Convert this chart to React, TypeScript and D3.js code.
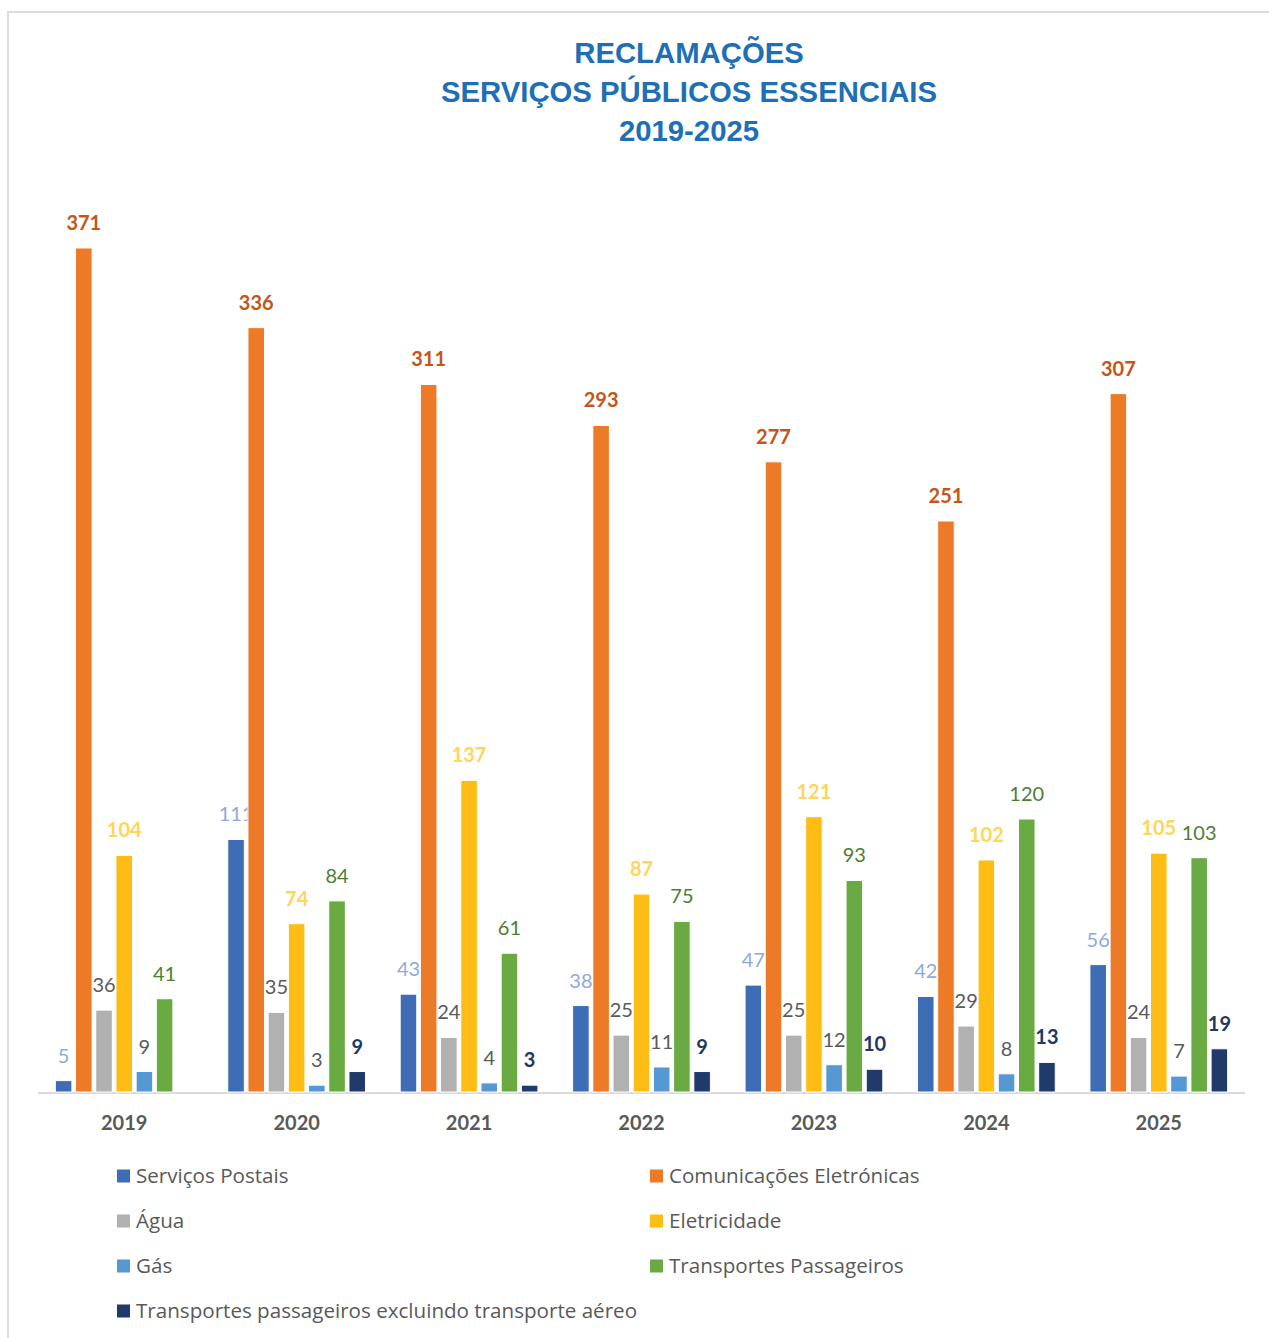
import React from "react";
import * as d3 from "d3";

const years = ["2019", "2020", "2021", "2022", "2023", "2024", "2025"];
const seriesNames = [
  "Serviços Postais",
  "Comunicações Eletrónicas",
  "Água",
  "Eletricidade",
  "Gás",
  "Transportes Passageiros",
  "Transportes passageiros excluindo transporte aéreo",
];
const servicosPostais = [5, 111, 43, 38, 47, 42, 56];
const comunicacoes = [371, 336, 311, 293, 277, 251, 307];
const agua = [36, 35, 24, 25, 25, 29, 24];
const eletricidade = [104, 74, 137, 87, 121, 102, 105];
const gas = [9, 3, 4, 11, 12, 8, 7];
const transportes = [41, 84, 61, 75, 93, 120, 103];
const transportesExclAereo = [null, 9, 3, 9, 10, 13, 19];
const titleLines = ["RECLAMAÇÕES", "SERVIÇOS PÚBLICOS ESSENCIAIS", "2019-2025"];

const seriesValues: (number | null)[][] = [
  servicosPostais,
  comunicacoes,
  agua,
  eletricidade,
  gas,
  transportes,
  transportesExclAereo,
];
const barColors = ["#3f6db5", "#ec7a26", "#b1b1b1", "#fdbd14", "#5598d3", "#69aa43", "#203a6b"];
const labelColors = ["#8eaadb", "#c4561a", "#5a5a5a", "#ffd55a", "#5a5a5a", "#4e7e34", "#1f3864"];
const labelWeights = [400, 700, 400, 700, 400, 400, 700];

const W = 1269;
const H = 1338;
const baseY = 1092;
const FONT = "Lato, 'Open Sans', sans-serif";

export default function App() {
  const x0 = d3.scaleBand<string>().domain(years).range([38, 1245]).paddingInner(0.18).paddingOuter(0.09);
  const x1 = d3
    .scaleBand<string>()
    .domain(seriesNames)
    .range([0, x0.bandwidth()])
    .paddingInner(0.18)
    .paddingOuter(0.09);
  const y = d3.scaleLinear().domain([0, 371]).range([baseY, 248]);

  return (
    <svg
      width={W}
      height={H}
      style={{ position: "absolute", left: 0, top: 0, background: "#fff" }}
      fontFamily={FONT}
    >
      <rect x={8} y={12} width={W + 10} height={H + 10} fill="#fff" stroke="#dcdcdc" strokeWidth={2} />
      {titleLines.map((t, i) => (
        <text
          key={t}
          x={689}
          y={63 + i * 39}
          textAnchor="middle"
          fontFamily="'Liberation Sans', Arial, sans-serif"
          fontWeight={700}
          fontSize={29.3}
          fill="#1d6fb6"
        >
          {t}
        </text>
      ))}
      <line x1={38} x2={1245} y1={baseY + 1} y2={baseY + 1} stroke="#d9d9d9" strokeWidth={2} />
      {years.map((yr, yi) => (
        <g key={yr} transform={`translate(${x0(yr)},0)`}>
          {seriesNames.map((s, si) => {
            const v = seriesValues[si][yi];
            if (v === null || v === undefined) return null;
            const bx = x1(s)!;
            const bw = x1.bandwidth();
            return (
              <g key={s}>
                <rect
                  x={bx}
                  y={y(v)}
                  width={bw}
                  height={baseY - y(v)}
                  fill={barColors[si]}
                  stroke="#fff"
                  strokeWidth={1}
                />
                <text
                  x={bx + bw / 2}
                  y={y(v) - 18}
                  textAnchor="middle"
                  fontSize={20}
                  fontWeight={labelWeights[si]}
                  fill={labelColors[si]}
                >
                  {v}
                </text>
              </g>
            );
          })}
          <text
            x={x0.bandwidth() / 2}
            y={1130}
            textAnchor="middle"
            fontSize={20}
            fontWeight={700}
            fill="#595959"
          >
            {yr}
          </text>
        </g>
      ))}
      {seriesNames.map((s, i) => {
        const col = i % 2;
        const row = Math.floor(i / 2);
        const lx = col === 0 ? 117 : 650;
        const ly = 1176 + row * 45;
        return (
          <g key={s}>
            <rect x={lx} y={ly - 6.5} width={13} height={13} fill={barColors[i]} />
            <text
              x={lx + 19}
              y={ly + 7}
              fontSize={20.6}
              fontFamily="'Open Sans', Lato, sans-serif"
              fill="#595959"
            >
              {s}
            </text>
          </g>
        );
      })}
    </svg>
  );
}
